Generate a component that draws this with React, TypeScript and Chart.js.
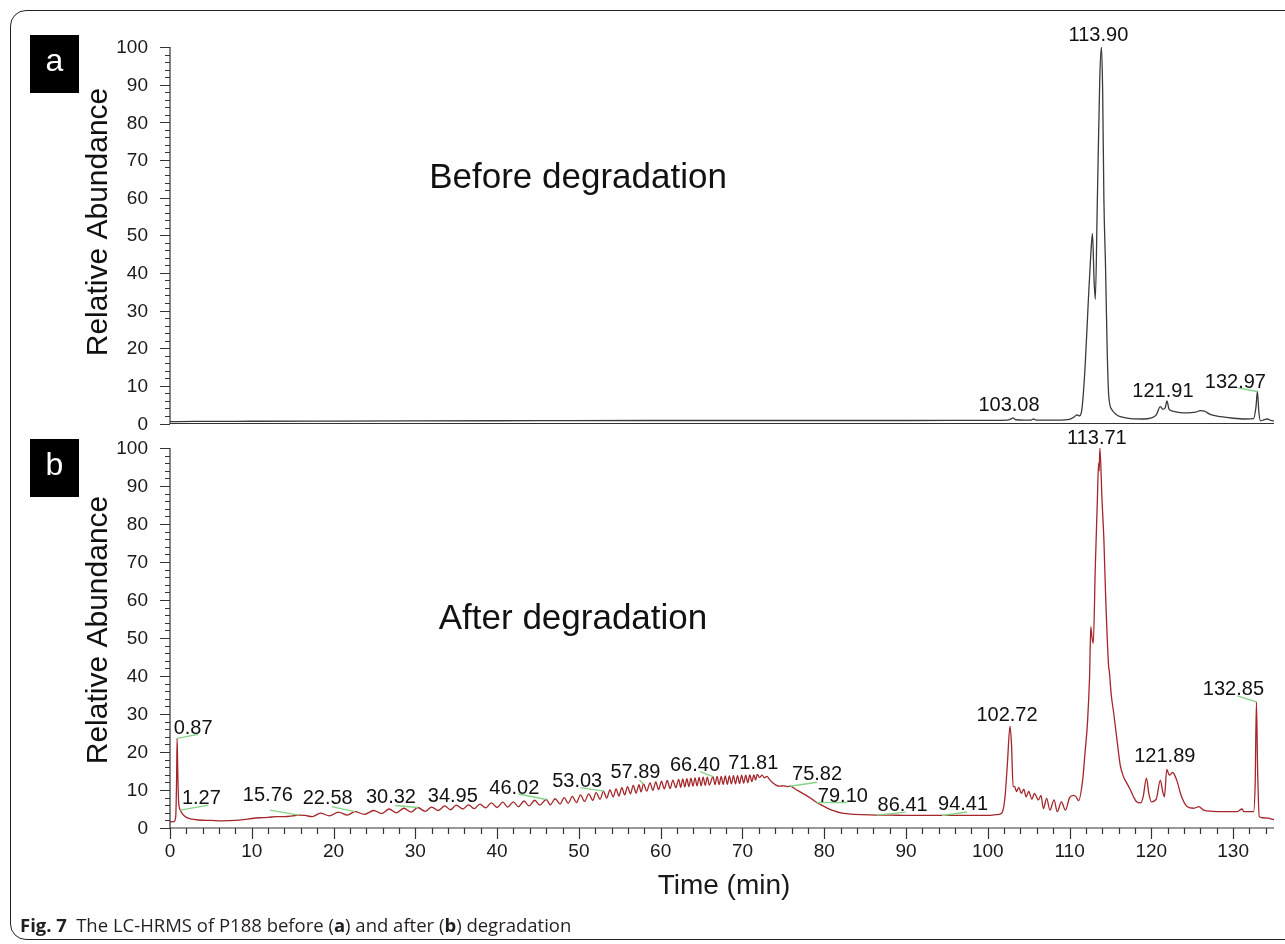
import React, { useEffect, useRef } from "react";
import { Chart, registerables } from "chart.js";

Chart.register(...registerables);

type Pt = [number, number];

// ---------- axis ticks ----------
const timeMajorTicks = [0, 10, 20, 30, 40, 50, 60, 70, 80, 90, 100, 110, 120, 130];
const abundanceMajorTicks = [0, 10, 20, 30, 40, 50, 60, 70, 80, 90, 100];
const timeMinorStep = 2;
const abundanceMinorStep = 2;
const timeRange: Pt = [0, 135];
const abundanceRange: Pt = [0, 100];

// ---------- panel a: before degradation ----------
const beforeBaseline: Pt[] = [
  [0, 0.5], [3, 0.55], [10, 0.6], [20, 0.65], [30, 0.7], [45, 0.75], [60, 0.8],
  [75, 0.8], [90, 0.8], [100, 0.85], [102.4, 0.9], [102.9, 1.3], [103.08, 1.5],
  [103.4, 1.0], [104.5, 0.9], [105.3, 0.9], [105.6, 1.2], [105.9, 0.9], [108.5, 0.9],
  [110.0, 1.1], [110.6, 1.8], [110.9, 2.3], [111.2, 2.0], [111.5, 3.6],
];
const beforeMainPeak: Pt[] = [
  [111.9, 15], [112.3, 32.8], [112.6, 45], [112.8, 50.5], [113.0, 38], [113.15, 33],
  [113.4, 59.4], [113.7, 92], [113.9, 100], [114.05, 88], [114.2, 59.4], [114.4, 41.6],
  [114.6, 19.5], [114.8, 7.1], [115.2, 3.6], [115.7, 2.4], [116.2, 1.8],
];
const beforeTail: Pt[] = [
  [117.5, 1.3], [119, 1.2], [120.0, 1.5], [120.6, 2.3], [121.1, 4.5], [121.4, 3.8],
  [121.7, 4.2], [121.91, 6.0], [122.15, 3.9], [122.6, 3.3], [123.5, 2.9], [124.4, 2.8],
  [125.4, 3.0], [126.0, 3.4], [126.5, 3.3], [127.2, 2.4], [128.5, 1.8], [130, 1.4],
  [131.5, 1.2], [132.5, 1.3], [132.8, 4.5], [132.97, 8.5], [133.15, 3.0], [133.35, 0.7],
  [133.8, 1.0], [134.2, 1.2], [134.6, 0.8], [135, 0.7],
];

// ---------- panel b: after degradation ----------
const afterEarly: Pt[] = [
  [0, 1.6], [0.5, 1.7], [0.7, 3.0], [0.8, 12], [0.87, 23.6], [0.95, 15], [1.05, 7],
  [1.27, 4.7], [1.6, 3.5], [2.0, 2.8], [2.5, 2.4], [3.5, 2.1], [5, 2.0], [6.5, 1.9],
  [8, 2.0], [9, 2.2], [10, 2.5], [11, 2.7], [12, 2.8], [13, 3.0], [14, 3.0], [15, 3.2],
  [15.76, 3.4], [16.5, 3.3],
];
const afterLadderLow: Pt[] = [
  [17.4, 3.0], [18.4, 3.9], [19.5, 3.2], [20.6, 4.2], [21.7, 3.4], [22.6, 4.3],
  [23.8, 3.6], [24.9, 4.6], [25.9, 3.8], [26.8, 5.0], [27.7, 4.0], [28.6, 5.2],
  [29.5, 4.2], [30.3, 5.4], [31.2, 4.4], [32.0, 5.5], [32.8, 4.6], [33.6, 5.8],
  [34.3, 4.8], [35.0, 6.0], [35.8, 5.0], [36.5, 6.1], [37.2, 5.1], [37.9, 6.3],
  [38.6, 5.3], [39.3, 6.6], [40.0, 5.4], [40.7, 6.8], [41.3, 5.5], [42.0, 6.9],
  [42.6, 5.6], [43.3, 7.1], [43.9, 5.8], [44.6, 7.3], [45.2, 6.0], [46.0, 7.5],
];
const afterLadderMid: Pt[] = [
  [46.5, 6.1], [47.1, 7.7], [47.7, 6.3], [48.2, 8.0], [48.7, 6.5], [49.2, 8.3],
  [49.7, 6.7], [50.2, 8.7], [50.7, 7.0], [51.2, 9.0], [51.7, 7.3], [52.1, 9.3],
  [52.6, 7.6], [53.0, 9.7], [53.4, 7.9], [53.8, 10.0], [54.2, 8.2], [54.55, 10.3],
  [54.9, 8.4], [55.25, 10.6], [55.6, 8.7], [55.95, 10.9], [56.3, 9.0], [56.65, 11.2],
  [57.0, 9.2], [57.35, 11.4], [57.6, 9.5], [57.9, 11.6], [58.3, 9.7], [58.7, 11.9],
  [59.05, 9.9], [59.4, 12.1], [59.75, 10.1], [60.1, 12.3], [60.45, 10.3], [60.8, 12.5],
  [61.15, 10.4], [61.5, 12.6], [61.85, 10.6], [62.2, 12.8],
];
const afterLadderHigh: Pt[] = [
  [62.45, 10.7], [62.7, 12.9], [62.95, 10.8], [63.2, 13.0], [63.45, 10.9], [63.7, 13.1],
  [63.95, 11.0], [64.2, 13.2], [64.45, 11.1], [64.7, 13.3], [64.95, 11.1], [65.2, 13.4],
  [65.45, 11.2], [65.7, 13.4], [65.95, 11.3], [66.4, 13.5], [66.65, 11.4], [66.9, 13.6],
  [67.15, 11.4], [67.4, 13.6], [67.65, 11.5], [67.9, 13.7], [68.15, 11.5], [68.4, 13.7],
  [68.65, 11.6], [68.9, 13.8], [69.15, 11.6], [69.4, 13.8], [69.65, 11.7], [69.9, 13.9],
  [70.15, 11.8], [70.4, 13.9], [70.65, 11.9], [70.9, 14.0], [71.15, 12.2], [71.4, 14.0],
  [71.6, 12.6], [71.81, 14.1],
];
const afterPlateau: Pt[] = [
  [72.1, 13.3], [72.4, 13.9], [72.7, 13.2], [73.0, 13.6], [73.3, 12.8], [73.7, 11.9],
  [74.1, 11.3], [74.5, 11.0], [75.0, 11.1], [75.5, 10.9], [75.82, 11.0], [76.5, 10.2],
  [77.2, 9.3], [77.8, 8.6], [78.5, 7.6], [79.1, 6.7], [79.8, 5.9], [80.5, 5.1],
  [81.2, 4.5], [82.0, 4.0], [83.0, 3.7], [84.5, 3.5], [86.41, 3.4], [88, 3.4],
  [90, 3.3], [92, 3.3], [94.41, 3.3], [96, 3.3], [98, 3.3], [100, 3.3], [101, 3.5],
];
const afterLate: Pt[] = [
  [101.7, 3.9], [102.1, 8], [102.4, 17], [102.72, 26.8], [102.9, 22], [103.1, 10.9],
  [103.3, 10.9], [103.5, 9.6], [103.8, 10.7], [104.1, 9.1], [104.4, 10.2], [104.7, 8.2],
  [105.0, 9.6], [105.4, 7.6], [105.7, 9.1], [106.2, 7.4], [106.5, 8.6], [106.8, 5.1],
  [107.2, 7.8], [107.6, 4.7], [108.1, 7.4], [108.5, 4.3], [109.0, 6.9], [109.5, 4.7],
  [110.0, 8.0], [110.5, 8.6], [110.8, 8.2], [111.1, 7.2],
];
const afterMainPeak: Pt[] = [
  [111.6, 12.6], [111.9, 20], [112.2, 28], [112.45, 40], [112.6, 53], [112.75, 50],
  [112.9, 48.6], [113.15, 68.8], [113.4, 86.3], [113.55, 96], [113.62, 94], [113.71, 100],
  [113.97, 86.3], [114.2, 75.8], [114.4, 61.8], [114.78, 42.4], [114.85, 41.5],
  [115.1, 35], [115.4, 30.2], [115.8, 23.2], [116.2, 16.5], [116.6, 13.5], [117.0, 11.8],
  [117.4, 10.2], [117.8, 8.3], [118.2, 6.9],
];
const afterTail: Pt[] = [
  [118.7, 6.6], [119.0, 8.2], [119.4, 13.1], [119.7, 9.0], [120.0, 6.9], [120.6, 7.6],
  [121.1, 12.6], [121.4, 9.5], [121.6, 8.2], [121.89, 15.4], [122.2, 13.9], [122.6, 14.6],
  [123.1, 12.6], [123.7, 8.2], [124.4, 5.6], [125.2, 5.2], [125.8, 5.6], [126.4, 4.7],
  [127.5, 4.4], [129, 4.3], [130.5, 4.3], [131.1, 5.0], [131.3, 4.3], [132.5, 4.3],
  [132.7, 12], [132.85, 33.2], [133.0, 15], [133.2, 3.0], [133.6, 2.7], [134.2, 2.6],
  [135, 2.2],
];

// ---------- peak annotations ----------
const beforeLabelText = ["113.90", "103.08", "121.91", "132.97"];
const beforeLabelTime = [113.9, 103.08, 121.91, 132.97];
const beforeLabelValue = [100, 1.5, 6.0, 8.5];

const afterLabelText = [
  "0.87", "1.27", "15.76", "22.58", "30.32", "34.95", "46.02", "53.03", "57.89",
  "66.40", "71.81", "75.82", "79.10", "86.41", "94.41", "102.72", "113.71", "121.89", "132.85",
];
const afterLabelTime = [
  0.87, 1.27, 15.76, 22.58, 30.32, 34.95, 46.02, 53.03, 57.89,
  66.4, 71.81, 75.82, 79.1, 86.41, 94.41, 102.72, 113.71, 121.89, 132.85,
];
const afterLabelValue = [
  23.6, 4.7, 3.4, 4.3, 5.4, 6.0, 7.5, 9.7, 11.6,
  13.5, 14.1, 11.0, 6.7, 3.4, 3.3, 26.8, 100, 15.4, 33.2,
];

// label placement (pixels relative to peak), and green leader end (relative to label centre)
type Place = { dx: number; dy: number; g?: Pt };
const beforeLabelPlace: Place[] = [
  { dx: -3, dy: -12 },
  { dx: -4, dy: -12 },
  { dx: -4, dy: -9 },
  { dx: -22, dy: -9.5, g: [3, 6] },
];
const afterLabelPlace: Place[] = [
  { dx: 16, dy: -10, g: [5, 6] },
  { dx: 21, dy: -12, g: [7, 7] },
  { dx: -31, dy: -20, g: [2, 15] },
  { dx: -27, dy: -13, g: [4, 8] },
  { dx: -27, dy: -10, g: [4, 8] },
  { dx: -3, dy: -9 },
  { dx: -32, dy: -11.5, g: [4, 6] },
  { dx: -26.5, dy: -9.5, g: [3, 6] },
  { dx: -8, dy: -11, g: [4, 7] },
  { dx: -18, dy: -11, g: [5, 6] },
  { dx: -4, dy: -11 },
  { dx: 27, dy: -12, g: [0, 8] },
  { dx: 26, dy: -6, g: [4, 6] },
  { dx: 26, dy: -10, g: [3, 7] },
  { dx: 21, dy: -10.5, g: [4, 7] },
  { dx: -3, dy: -11 },
  { dx: -3, dy: -10 },
  { dx: -2, dy: -12.5 },
  { dx: -23, dy: -12, g: [4, 6] },
];

const SANS = '"Liberation Sans", Arial, sans-serif';

type PanelCfg = {
  pad: { left: number; right: number; top: number; bottom: number };
  color: string;
  points: Pt[];
  labels: { text: string[]; t: number[]; v: number[]; place: Place[] };
  showTimeTicks: boolean;
  letter: string;
  letterBox: [number, number];
  note: string;
  notePos: Pt;
  titleY: number;
};

function decorPlugin(cfg: PanelCfg) {
  return {
    id: "decor",
    afterDatasetsDraw(chart: any) {
      const ctx: CanvasRenderingContext2D = chart.ctx;
      const xs = chart.scales.x;
      const ys = chart.scales.y;
      const left = xs.getPixelForValue(timeRange[0]);
      const right = xs.getPixelForValue(timeRange[1]);
      const y0 = ys.getPixelForValue(abundanceRange[0]);
      const y100 = ys.getPixelForValue(abundanceRange[1]);
      ctx.save();
      ctx.strokeStyle = "#333";
      ctx.lineWidth = 1.2;
      // axis lines
      ctx.beginPath();
      ctx.moveTo(left, y100);
      ctx.lineTo(left, y0);
      ctx.lineTo(right, y0);
      ctx.stroke();
      // y ticks
      ctx.beginPath();
      for (let v = abundanceRange[0]; v <= abundanceRange[1] + 1e-6; v += abundanceMinorStep) {
        const py = Math.round(ys.getPixelForValue(v)) + 0.5;
        const major = abundanceMajorTicks.includes(v);
        ctx.moveTo(left - (major ? 10 : 5), py);
        ctx.lineTo(left, py);
      }
      ctx.stroke();
      ctx.fillStyle = "#1a1a1a";
      ctx.font = `19px ${SANS}`;
      ctx.textAlign = "right";
      ctx.textBaseline = "middle";
      abundanceMajorTicks.forEach((v) => {
        ctx.fillText(String(v), left - 22, ys.getPixelForValue(v) + 1);
      });
      // x ticks
      if (cfg.showTimeTicks) {
        ctx.beginPath();
        for (let t = timeRange[0]; t <= timeRange[1] + 1e-6; t += timeMinorStep) {
          const px = Math.round(xs.getPixelForValue(t)) + 0.5;
          const major = timeMajorTicks.includes(t);
          ctx.moveTo(px, y0);
          ctx.lineTo(px, y0 + (major ? 11 : 6));
        }
        ctx.stroke();
        ctx.textAlign = "center";
        timeMajorTicks.forEach((t) => {
          ctx.fillText(String(t), xs.getPixelForValue(t), y0 + 24);
        });
        ctx.font = `28px ${SANS}`;
        ctx.fillText("Time (min)", 724, 886);
      }
      // peak labels
      ctx.font = `20px ${SANS}`;
      ctx.textAlign = "center";
      const L = cfg.labels;
      L.text.forEach((txt, i) => {
        const px = xs.getPixelForValue(L.t[i]);
        const py = ys.getPixelForValue(L.v[i]);
        const p = L.place[i];
        const lx = px + p.dx;
        const ly = py + p.dy;
        if (p.g) {
          ctx.strokeStyle = "#86d486";
          ctx.lineWidth = 1.4;
          ctx.beginPath();
          ctx.moveTo(px, py);
          ctx.lineTo(lx + p.g[0], ly + p.g[1]);
          ctx.stroke();
        }
        ctx.fillStyle = "#111";
        ctx.fillText(txt, lx, ly);
      });
      // y title
      ctx.save();
      ctx.translate(99, cfg.titleY);
      ctx.rotate(-Math.PI / 2);
      ctx.font = `30px ${SANS}`;
      ctx.fillStyle = "#111";
      ctx.textAlign = "center";
      ctx.textBaseline = "middle";
      ctx.fillText("Relative Abundance", 0, 0);
      ctx.restore();
      // note
      ctx.font = `35px ${SANS}`;
      ctx.fillStyle = "#111";
      ctx.textAlign = "center";
      ctx.textBaseline = "middle";
      ctx.fillText(cfg.note, cfg.notePos[0], cfg.notePos[1]);
      // letter box
      ctx.fillStyle = "#000";
      ctx.fillRect(cfg.letterBox[0], cfg.letterBox[1], 49, 58);
      ctx.fillStyle = "#fff";
      ctx.font = `32px ${SANS}`;
      ctx.fillText(cfg.letter, cfg.letterBox[0] + 24.5, cfg.letterBox[1] + 27);
      ctx.restore();
    },
  };
}

function Panel({ cfg }: { cfg: PanelCfg }) {
  const ref = useRef<HTMLCanvasElement | null>(null);
  useEffect(() => {
    if (!ref.current) return;
    const chart = new Chart(ref.current, {
      type: "line",
      data: {
        datasets: [
          {
            data: cfg.points.map(([t, v]) => ({ x: t, y: v })),
            borderColor: cfg.color,
            borderWidth: 1.3,
            pointRadius: 0,
            cubicInterpolationMode: "monotone",
            fill: false,
          },
        ],
      },
      options: {
        responsive: false,
        animation: false,
        devicePixelRatio: 1,
        layout: { padding: cfg.pad },
        scales: {
          x: { type: "linear", min: timeRange[0], max: timeRange[1], display: false },
          y: { type: "linear", min: abundanceRange[0], max: abundanceRange[1], display: false },
        },
        plugins: { legend: { display: false }, tooltip: { enabled: false } },
        events: [],
      },
      plugins: [decorPlugin(cfg)],
    } as any);
    return () => chart.destroy();
  }, [cfg]);
  return (
    <canvas
      ref={ref}
      width={1285}
      height={944}
      style={{ position: "absolute", left: 0, top: 0, width: 1285, height: 944 }}
    />
  );
}

const panelA: PanelCfg = {
  pad: { left: 170, right: 11, top: 47, bottom: 944 - 423.5 },
  color: "#3a3a3a",
  points: [...beforeBaseline, ...beforeMainPeak, ...beforeTail],
  labels: { text: beforeLabelText, t: beforeLabelTime, v: beforeLabelValue, place: beforeLabelPlace },
  showTimeTicks: false,
  letter: "a",
  letterBox: [30, 35],
  note: "Before degradation",
  notePos: [578, 178],
  titleY: 222,
};

const panelB: PanelCfg = {
  pad: { left: 170, right: 11, top: 448, bottom: 944 - 828 },
  color: "#a3262a",
  points: [
    ...afterEarly, ...afterLadderLow, ...afterLadderMid, ...afterLadderHigh,
    ...afterPlateau, ...afterLate, ...afterMainPeak, ...afterTail,
  ],
  labels: { text: afterLabelText, t: afterLabelTime, v: afterLabelValue, place: afterLabelPlace },
  showTimeTicks: true,
  letter: "b",
  letterBox: [30, 439],
  note: "After degradation",
  notePos: [573, 619],
  titleY: 630,
};

export default function App() {
  return (
    <div
      style={{
        position: "absolute",
        left: 0,
        top: 0,
        width: 1285,
        height: 944,
        overflow: "hidden",
        background: "#fff",
      }}
    >
      <div
        style={{
          position: "absolute",
          left: 10,
          top: 10,
          width: 1300,
          height: 930,
          border: "1.5px solid #222",
          borderRadius: 16,
          boxSizing: "border-box",
        }}
      />
      <Panel cfg={panelA} />
      <Panel cfg={panelB} />
      <div
        style={{
          position: "absolute",
          left: 20,
          top: 912,
          fontFamily: '"Open Sans", "Noto Sans", sans-serif',
          fontSize: 18.5,
          color: "#231f20",
          whiteSpace: "nowrap",
          lineHeight: "26px",
        }}
      >
        <b>Fig. 7</b>
        {"\u2002The LC-HRMS of P188 before ("}
        <b>a</b>
        {") and after ("}
        <b>b</b>
        {") degradation"}
      </div>
    </div>
  );
}
